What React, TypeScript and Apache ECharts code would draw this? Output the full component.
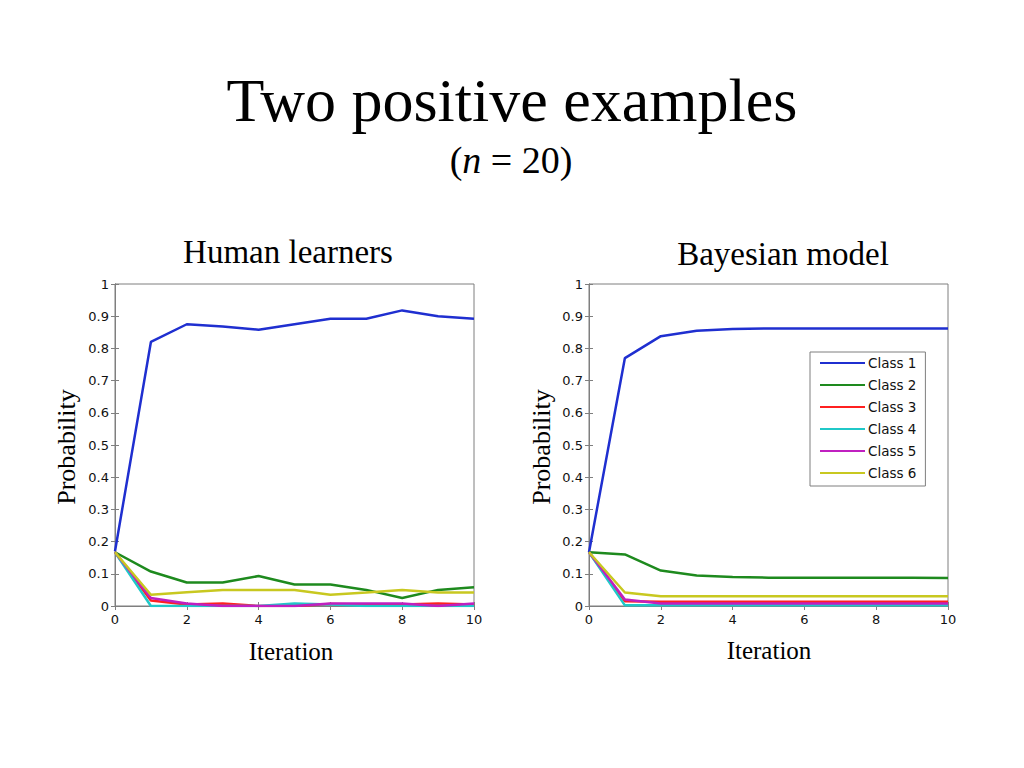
import React, { useEffect, useRef } from "react";
import * as echarts from "echarts";

const iterations = [0, 1, 2, 3, 4, 5, 6, 7, 8, 9, 10];
const classNames = ["Class 1", "Class 2", "Class 3", "Class 4", "Class 5", "Class 6"];
const classColors = ["#1f2fd0", "#1e8a1e", "#ff2020", "#20c8c8", "#c020c0", "#c8c820"];

// Human learners
const human1 = [0.17, 0.82, 0.875, 0.868, 0.858, 0.875, 0.892, 0.892, 0.918, 0.9, 0.892];
const human2 = [0.167, 0.107, 0.073, 0.073, 0.093, 0.067, 0.067, 0.05, 0.025, 0.05, 0.058];
const human3 = [0.167, 0.017, 0.005, 0.008, 0.0, 0.0, 0.006, 0.005, 0.005, 0.008, 0.005];
const human4 = [0.167, 0.0, 0.0, 0.0, 0.0, 0.008, 0.005, 0.0, 0.0, 0.0, 0.0];
const human5 = [0.167, 0.025, 0.008, 0.0, 0.0, 0.0, 0.008, 0.008, 0.008, 0.0, 0.008];
const human6 = [0.167, 0.035, 0.043, 0.05, 0.05, 0.05, 0.035, 0.042, 0.05, 0.042, 0.042];

// Bayesian model
const model1 = [0.167, 0.77, 0.838, 0.855, 0.86, 0.862, 0.862, 0.862, 0.862, 0.862, 0.862];
const model2 = [0.167, 0.16, 0.11, 0.095, 0.09, 0.088, 0.088, 0.088, 0.088, 0.088, 0.087];
const model3 = [0.167, 0.015, 0.013, 0.013, 0.013, 0.013, 0.013, 0.013, 0.013, 0.013, 0.013];
const model4 = [0.167, 0.002, 0.002, 0.002, 0.002, 0.002, 0.002, 0.002, 0.002, 0.002, 0.002];
const model5 = [0.167, 0.02, 0.008, 0.008, 0.008, 0.008, 0.008, 0.008, 0.008, 0.008, 0.008];
const model6 = [0.167, 0.042, 0.03, 0.03, 0.03, 0.03, 0.03, 0.03, 0.03, 0.03, 0.03];

const humanData = [human1, human2, human3, human4, human5, human6];
const modelData = [model1, model2, model3, model4, model5, model6];

const xTicks = [0, 2, 4, 6, 8, 10];
const yTickLabels = ["0", "0.1", "0.2", "0.3", "0.4", "0.5", "0.6", "0.7", "0.8", "0.9", "1"];

const serif = "'Liberation Serif', 'DejaVu Serif', serif";
const sans = "'DejaVu Sans', 'Liberation Sans', sans-serif";

export default function App() {
  const ref = useRef<HTMLDivElement>(null);
  useEffect(() => {
    if (!ref.current) return;
    const chart = echarts.init(ref.current, undefined, { renderer: "svg" });

    const gridLefts = [115, 589];
    const grids = gridLefts.map((l) => ({
      left: l,
      top: 284,
      width: 359,
      height: 322,
      show: true,
      borderColor: "#7f7f7f",
      borderWidth: 1,
      backgroundColor: "#ffffff",
    }));

    const axisLine = { show: true, lineStyle: { color: "#7f7f7f", width: 1 } };
    const axisTick = { show: true, inside: true, length: 4, lineStyle: { color: "#7f7f7f" } };

    const xAxes: any[] = [];
    const yAxes: any[] = [];
    [0, 1].forEach((g) => {
      xAxes.push({
        type: "value",
        gridIndex: g,
        min: 0,
        max: 10,
        interval: 2,
        position: "bottom",
        axisLine,
        axisTick,
        splitLine: { show: false },
        axisLabel: {
          color: "#111",
          fontFamily: sans,
          fontSize: 13,
          margin: 7,
          formatter: (v: number) => (xTicks.includes(v) ? String(v) : ""),
        },
      });
      xAxes.push({
        type: "value",
        gridIndex: g,
        min: 0,
        max: 10,
        interval: 2,
        position: "top",
        axisLine,
        axisTick,
        splitLine: { show: false },
        axisLabel: { show: false },
      });
      yAxes.push({
        type: "value",
        gridIndex: g,
        min: 0,
        max: 1,
        interval: 0.1,
        position: "left",
        axisLine,
        axisTick,
        splitLine: { show: false },
        axisLabel: {
          color: "#111",
          fontFamily: sans,
          fontSize: 13,
          margin: 6,
          formatter: (v: number) => yTickLabels[Math.round(v * 10)] ?? "",
        },
      });
      yAxes.push({
        type: "value",
        gridIndex: g,
        min: 0,
        max: 1,
        interval: 0.1,
        position: "right",
        axisLine,
        axisTick,
        splitLine: { show: false },
        axisLabel: { show: false },
      });
    });

    const series: any[] = [];
    [humanData, modelData].forEach((dataset, g) => {
      dataset.forEach((vals, i) => {
        series.push({
          type: "line",
          name: classNames[i],
          xAxisIndex: g * 2,
          yAxisIndex: g * 2,
          data: iterations.map((x, k) => [x, vals[k]]),
          symbol: "none",
          lineStyle: { color: classColors[i], width: 2.5 },
          itemStyle: { color: classColors[i] },
          z: 2 + i,
        });
      });
    });

    const textEl = (text: string, x: number, y: number, size: number, rotation = 0) => ({
      type: "text",
      x,
      y,
      rotation,
      style: {
        text,
        font: `${size}px ${serif}`,
        fill: "#000",
        align: "center",
        verticalAlign: "middle",
      },
    });

    chart.setOption({
      animation: false,
      backgroundColor: "#ffffff",
      grid: grids,
      xAxis: xAxes,
      yAxis: yAxes,
      series,
      legend: {
        show: true,
        orient: "vertical",
        left: 810,
        top: 352,
        data: classNames,
        icon: "rect",
        backgroundColor: "#ffffff",
        borderColor: "#7f7f7f",
        borderWidth: 1,
        padding: [4, 9, 6, 10],
        itemWidth: 45,
        itemHeight: 2,
        itemGap: 8,
        selectedMode: false,
        textStyle: { color: "#111", fontFamily: sans, fontSize: 13.5, lineHeight: 14, padding: [0, 0, 0, -2] },
      },
      graphic: [
        textEl("Two positive examples", 512, 100, 62),
        {
          type: "text",
          x: 511,
          y: 160,
          style: {
            text: "({n|n} = 20)",
            font: `38px ${serif}`,
            fill: "#000",
            align: "center",
            verticalAlign: "middle",
            rich: { n: { fontStyle: "italic", fontFamily: serif, fontSize: 38 } },
          },
        },
        textEl("Human learners", 288, 252, 33),
        textEl("Bayesian model", 783, 254, 33),
        textEl("Probability", 66, 447, 26, Math.PI / 2),
        textEl("Probability", 541, 447, 26, Math.PI / 2),
        textEl("Iteration", 291, 651, 25),
        textEl("Iteration", 769, 650, 25),
      ],
    });
    return () => chart.dispose();
  }, []);
  return (
    <div
      ref={ref}
      style={{ position: "fixed", left: 0, top: 0, width: 1024, height: 768, background: "#fff" }}
    />
  );
}
